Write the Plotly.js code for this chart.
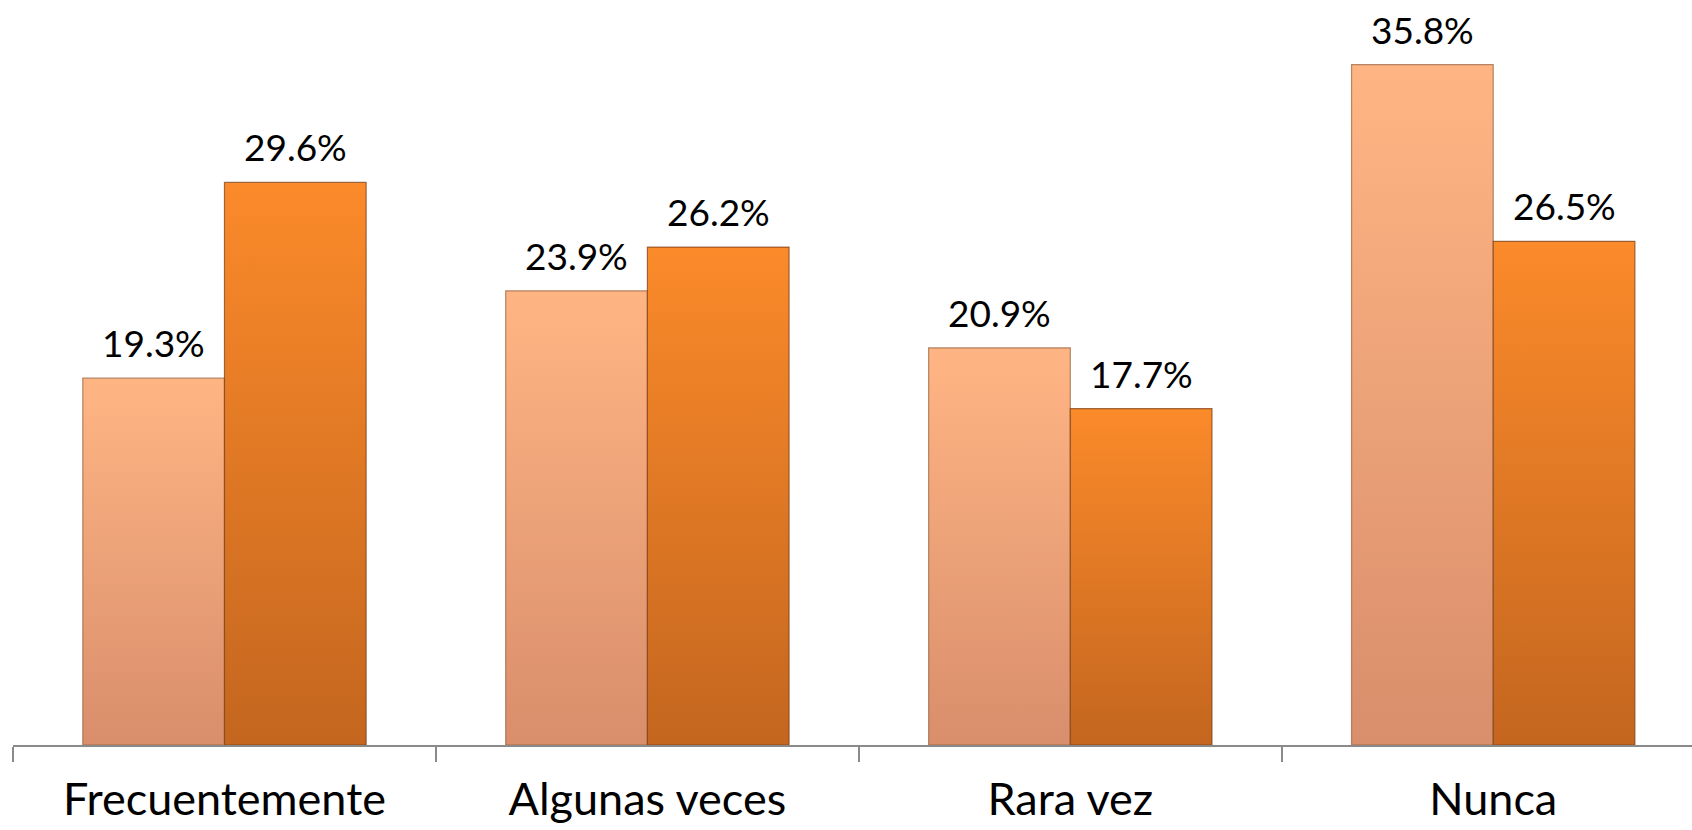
<!DOCTYPE html>
<html>
<head>
<meta charset="utf-8">
<script src="https://cdn.plot.ly/plotly-3.0.1.min.js"></script>
<style>html,body{margin:0;padding:0;background:#fff;}#chart{width:1692px;height:830px;}</style>
</head>
<body>
<div id="chart"></div>
<script>
const categories = ["Frecuentemente", "Algunas veces", "Rara vez", "Nunca"];
const seriesA = [19.3, 23.9, 20.9, 35.8];
const seriesB = [29.6, 26.2, 17.7, 26.5];
const seriesNames = ["Serie 1", "Serie 2"];

const FONT = "Lato, 'Open Sans', sans-serif";

const traces = [
  {type: "bar", name: seriesNames[0], x: categories, y: seriesA,
   marker: {color: "#EFA57C", line: {color: "rgba(150,95,60,0.7)", width: 1.2}}, hoverinfo: "none"},
  {type: "bar", name: seriesNames[1], x: categories, y: seriesB,
   marker: {color: "#E47A25", line: {color: "rgba(120,60,20,0.7)", width: 1.2}}, hoverinfo: "none"}
];

const annotations = [];
[seriesA, seriesB].forEach((s, si) => {
  s.forEach((v, i) => {
    annotations.push({x: categories[i], y: v, xref: "x", yref: "y",
      text: v.toFixed(1) + "%", showarrow: false, yanchor: "bottom",
      xshift: si === 0 ? -71 : 71, yshift: 11,
      font: {family: FONT, size: 37, color: "#000"}});
  });
});

const layout = {
  width: 1692, height: 830,
  margin: {l: 13, r: 0, t: 0, b: 85},
  paper_bgcolor: "#fff", plot_bgcolor: "#fff",
  barmode: "group", bargap: 0.33, bargroupgap: 0,
  showlegend: false,
  xaxis: {range: [-0.5, 3.47], showline: true, linecolor: "#8a8a8a", linewidth: 1.5,
    ticks: "outside", tickson: "boundaries", ticklen: 15, tickcolor: "#8a8a8a", tickwidth: 1.5,
    showgrid: false, zeroline: false, ticklabelstandoff: 14,
    tickfont: {family: FONT, size: 45, color: "#000"}},
  yaxis: {range: [0, 39.2], visible: false, showgrid: false, zeroline: false},
  annotations: annotations
};

Plotly.newPlot("chart", traces, layout, {displayModeBar: false, staticPlot: true}).then(gd => {
  const svg = gd.querySelector(".main-svg");
  let defs = svg.querySelector("defs");
  const ns = "http://www.w3.org/2000/svg";
  const grads = [["gA", "#FFB583", "#D98E6C"], ["gB", "#FB8A2A", "#C4661F"]];
  grads.forEach(g => {
    const lg = document.createElementNS(ns, "linearGradient");
    lg.setAttribute("id", g[0]); lg.setAttribute("x1", "0"); lg.setAttribute("y1", "0");
    lg.setAttribute("x2", "0"); lg.setAttribute("y2", "1");
    [[0, g[1]], [1, g[2]]].forEach(st => {
      const s = document.createElementNS(ns, "stop");
      s.setAttribute("offset", st[0]); s.setAttribute("stop-color", st[1]);
      lg.appendChild(s);
    });
    defs.appendChild(lg);
  });
  gd.querySelectorAll(".barlayer .trace").forEach((tr, ti) => {
    tr.querySelectorAll("path").forEach(p => { p.style.fill = "url(#" + grads[ti][0] + ")"; });
  });
});
</script>
</body>
</html>
